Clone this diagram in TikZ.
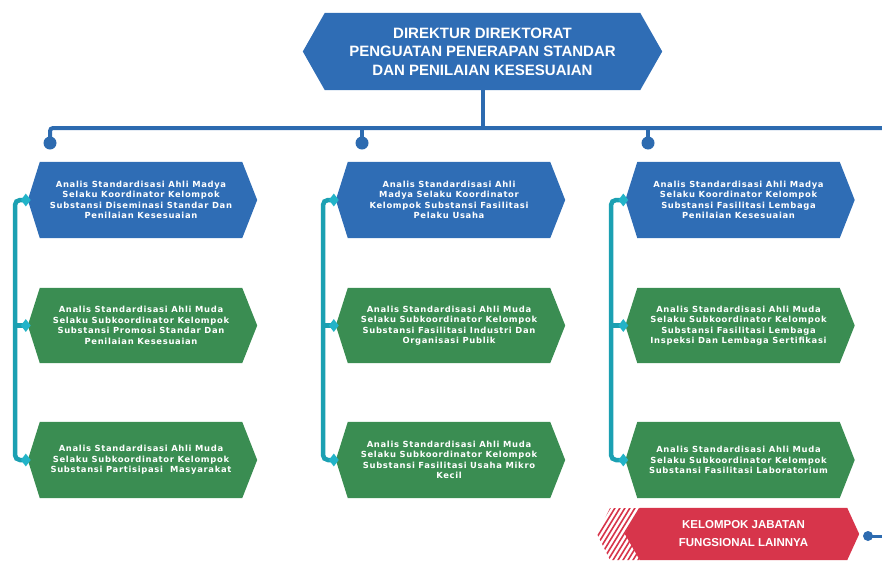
\documentclass[tikz,border=0pt]{standalone}
\usepackage{fontspec}
\setmainfont{Liberation Sans}
\newfontfamily\boxfont[LetterSpace=8]{DejaVu Sans}
\usetikzlibrary{shapes.geometric,calc}
\definecolor{hexblue}{HTML}{2F6DB5}
\definecolor{hexgreen}{HTML}{3A8D52}
\definecolor{hexred}{HTML}{D7354B}
\definecolor{linkteal}{HTML}{1BA0B2}
\definecolor{tipcyan}{HTML}{22B3C8}
\definecolor{barblue}{HTML}{2D6BB0}
\pgfdeclarelayer{bg}
\pgfsetlayers{bg,main}
\newcommand\hexfill[4]{% name, colour, left tip, right tip
  \begin{pgfonlayer}{bg}
  \fill[#2] (#1.north west) -- (#1.north east) -- ([xshift=#4]#1.east)
    -- (#1.south east) -- (#1.south west) -- ([xshift=-#3]#1.west) -- cycle;
  \end{pgfonlayer}}
\tikzset{
  bx/.style={inner sep=0pt, minimum width=202pt, minimum height=76pt,
    text=white, align=center, font=\boxfont\bfseries\fontsize{8.4}{10.5}\selectfont},
  ttl/.style={inner sep=0pt, minimum width=315pt, minimum height=77pt,
    text=white, align=center, font=\bfseries\fontsize{15}{18.5}\selectfont},
  redbx/.style={inner sep=0pt, minimum width=207pt, minimum height=52pt,
    text=white, align=center, font=\bfseries\fontsize{11.5}{18}\selectfont},
  bar/.style={draw=barblue, line width=4pt},
  pinnode/.style={circle, fill=barblue, inner sep=0pt, minimum size=13pt},
  link/.style={draw=linkteal, line width=4.5pt, rounded corners=5pt},
  tipmark/.style={diamond, fill=tipcyan, inner sep=0pt, minimum width=10pt, minimum height=13pt}
}
\begin{document}
\begin{tikzpicture}[x=1pt,y=-1pt]
\useasboundingbox (0,0) rectangle (882,565);
% title
\node[ttl] (title) at (482.5,51.5) {DIREKTUR DIREKTORAT\\PENGUATAN PENERAPAN STANDAR\\DAN PENILAIAN KESESUAIAN};
\hexfill{title}{hexblue}{22pt}{22pt}
% boxes
\node[bx] (a1) at (141,200) {Analis Standardisasi Ahli Madya\\Selaku Koordinator Kelompok\\Substansi Diseminasi Standar Dan\\Penilaian Kesesuaian};
\node[bx] (b1) at (449,200) {Analis Standardisasi Ahli\\Madya Selaku Koordinator\\Kelompok Substansi Fasilitasi\\Pelaku Usaha};
\node[bx] (c1) at (738.5,200) {Analis Standardisasi Ahli Madya\\Selaku Koordinator Kelompok\\Substansi Fasilitasi Lembaga\\Penilaian Kesesuaian};
\node[bx, minimum height=75pt] (a2) at (141,325.5) {Analis Standardisasi Ahli Muda\\Selaku Subkoordinator Kelompok\\Substansi Promosi Standar Dan\\Penilaian Kesesuaian};
\node[bx, minimum height=75pt] (b2) at (449,325.5) {Analis Standardisasi Ahli Muda\\Selaku Subkoordinator Kelompok\\Substansi Fasilitasi Industri Dan\\Organisasi Publik};
\node[bx, minimum height=75pt] (c2) at (738.5,325.5) {Analis Standardisasi Ahli Muda\\Selaku Subkoordinator Kelompok\\Substansi Fasilitasi Lembaga\\Inspeksi Dan Lembaga Sertifikasi};
\node[bx] (a3) at (141,460) {Analis Standardisasi Ahli Muda\\Selaku Subkoordinator Kelompok\\Substansi Partisipasi\ \ Masyarakat};
\node[bx] (b3) at (449,460) {Analis Standardisasi Ahli Muda\\Selaku Subkoordinator Kelompok\\Substansi Fasilitasi Usaha Mikro\\Kecil};
\node[bx] (c3) at (738.5,460) {Analis Standardisasi Ahli Muda\\Selaku Subkoordinator Kelompok\\Substansi Fasilitasi Laboratorium};
\foreach \n in {a1,b1,c1}{\hexfill{\n}{hexblue}{12pt}{15pt}}
\foreach \n in {a2,b2,c2,a3,b3,c3}{\hexfill{\n}{hexgreen}{12pt}{15pt}}
% red box
\node[redbx] (red) at (743.5,534) {KELOMPOK JABATAN\\FUNGSIONAL LAINNYA};
\hexfill{red}{hexred}{15pt}{12pt}
\begin{scope}
  \clip (610,508) -- (640,508) -- (626,534) -- (640,560) -- (610,560) -- (597,534) -- cycle;
  \foreach \i in {0,...,14}{\draw[hexred, line width=1.6pt] (575+\i*5,565) -- ++(38,-62);}
\end{scope}
% bar and pins
\coordinate (barR) at (882,128);
\coordinate (barL) at (50,128);
\node[pinnode] (p1) at (50,143) {};
\node[pinnode] (p2) at (362,143) {};
\node[pinnode] (p3) at (648,143) {};
\draw[bar] (title.south) -- (title.south |- barR);
\draw[bar, rounded corners=3pt] (barR) -- (barL) -- (p1.center);
\draw[bar] (p2.center) -- (p2 |- barR);
\draw[bar] (p3.center) -- (p3 |- barR);
\node[pinnode, minimum size=10pt] (p4) at (868,536) {};
\coordinate (edgeR) at (882,536);
\draw[bar, line width=3pt] (p4.center) -- (edgeR);
% teal links
\foreach \col/\x in {a/15,b/323,c/611}{
  \coordinate (\col t1) at ([xshift=-12pt]\col1.west);
  \coordinate (\col t2) at ([xshift=-12pt]\col2.west);
  \coordinate (\col t3) at ([xshift=-12pt]\col3.west);
  \draw[link] (\col t1) -- (\x,200) -- (\x,460) -- (\col t3);
  \draw[link] (\x,325.5) -- (\col t2);
  \node[tipmark] at ([xshift=-2pt]\col t1) {};
  \node[tipmark] at ([xshift=-2pt]\col t2) {};
  \node[tipmark] at ([xshift=-2pt]\col t3) {};
}
\end{tikzpicture}
\end{document}
